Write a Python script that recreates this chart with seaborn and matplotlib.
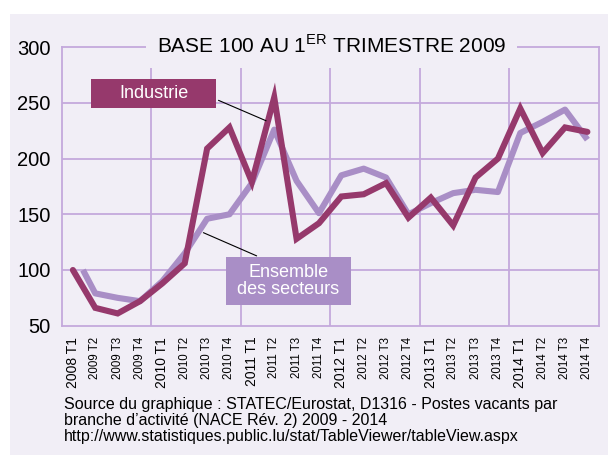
import matplotlib
matplotlib.use("Agg")
import matplotlib.pyplot as plt
import seaborn as sns
import pandas as pd
from matplotlib.patches import Rectangle

# Data
quarters = ["2008 T1", "2009 T2", "2009 T3", "2009 T4",
            "2010 T1", "2010 T2", "2010 T3", "2010 T4",
            "2011 T1", "2011 T2", "2011 T3", "2011 T4",
            "2012 T1", "2012 T2", "2012 T3", "2012 T4",
            "2013 T1", "2013 T2", "2013 T3", "2013 T4",
            "2014 T1", "2014 T2", "2014 T3", "2014 T4"]
industrie = [100, 66, 61, 72, 88, 106, 209, 228, 179, 255, 128, 142,
             166, 168, 178, 147, 165, 140, 183, 200, 245, 205, 228, 224]
# ensemble series starts half a step after the first category
ensemble_x = [0.45] + list(range(1, 24))
ensemble = [100, 79, 75, 72, 90, 115, 146, 150, 178, 226, 180, 151,
            185, 191, 183, 150, 160, 169, 172, 170, 223, 233, 244, 217]

c_ind = "#96396C"
c_ens = "#A98EC6"
c_grid = "#C4A9DC"
c_bg = "#F1EEF6"

sns.set_theme(style="white")
plt.rcParams["font.family"] = ["Liberation Sans", "DejaVu Sans"]
plt.rcParams["mathtext.fontset"] = "custom"
plt.rcParams["mathtext.rm"] = "Liberation Sans"

fig = plt.figure(figsize=(6.08, 4.55), dpi=100)
fig.patch.set_facecolor("white")
panel = Rectangle((10 / 608, 0), 1, (455 - 14) / 455,
                  transform=fig.transFigure, facecolor=c_bg,
                  edgecolor="none", zorder=-10)
fig.add_artist(panel)

ax = fig.add_axes([0.1015, 0.2842, 0.883, 0.612])
ax.set_zorder(1)
ax.set_facecolor(c_bg)

df_ind = pd.DataFrame({"x": range(len(quarters)), "v": industrie})
df_ens = pd.DataFrame({"x": ensemble_x, "v": ensemble})
sns.lineplot(data=df_ens, x="x", y="v", ax=ax, color=c_ens, lw=4.4,
             solid_capstyle="butt", zorder=3)
sns.lineplot(data=df_ind, x="x", y="v", ax=ax, color=c_ind, lw=4.4,
             solid_capstyle="round", solid_joinstyle="miter", zorder=4)

ax.set_xlim(-0.5, len(quarters) - 0.5)
ax.set_ylim(50, 300)
ax.set_yticks([50, 100, 150, 200, 250, 300])
ax.set_xticks(range(len(quarters)))
ax.set_xticklabels(quarters, rotation=90, va="top")
for lab, q in zip(ax.get_xticklabels(), quarters):
    lab.set_fontsize(10 if q.endswith("T1") else 8.3)
ax.tick_params(axis="y", labelsize=14.5, length=0, pad=8, labelcolor="black")
ax.tick_params(axis="x", length=0, pad=8, labelcolor="black")
ax.set_xlabel("")
ax.set_ylabel("")

# grid
for v in [100, 150, 200, 250]:
    ax.axhline(v, color=c_grid, lw=1.3, zorder=1)
for g in [3.5, 7.5, 11.5, 15.5, 19.5]:
    ax.axvline(g, ymax=0.95, color=c_grid, lw=1.3, zorder=1)
for s in ax.spines.values():
    s.set_color(c_grid)
    s.set_linewidth(1.3)

# title sitting on the top border
ax.text(0.502, 1.005, r"BASE 100 AU 1$^{\mathrm{ER}}$ TRIMESTRE 2009",
        transform=ax.transAxes, ha="center", va="center", fontsize=15,
        color="black", zorder=6,
        bbox=dict(facecolor=c_bg, edgecolor="none", pad=8))

# label boxes
ax.add_patch(Rectangle((0.0546, 0.7824), 0.2327, 0.1042, transform=ax.transAxes,
                       facecolor=c_ind, edgecolor="none", zorder=5))
ax.text(0.171, 0.8345, "Industrie", transform=ax.transAxes, ha="center",
        va="center", color="white", fontsize=13, zorder=6)
ax.annotate("", xy=(8.75, 233), xycoords="data",
            xytext=(0.2873, 0.8132), textcoords="axes fraction",
            arrowprops=dict(arrowstyle="-", color="black", lw=0.8), zorder=6)

ax.add_patch(Rectangle((0.3057, 0.0747), 0.2328, 0.1721, transform=ax.transAxes,
                       facecolor=c_ens, edgecolor="none", zorder=5))
ax.text(0.422, 0.161, "Ensemble\ndes secteurs", transform=ax.transAxes,
        ha="center", va="center", color="white", fontsize=13,
        linespacing=1.0, zorder=6)
ax.annotate("", xy=(5.72, 134.5), xycoords="data",
            xytext=(0.3678, 0.2468), textcoords="axes fraction",
            arrowprops=dict(arrowstyle="-", color="black", lw=0.8), zorder=6)

# source note
fig.text(64 / 608, 1 - 397 / 455,
         "Source du graphique : STATEC/Eurostat, D1316 - Postes vacants par\n"
         "branche d\u2019activit\u00e9 (NACE R\u00e9v. 2) 2009 - 2014\n"
         "http://www.statistiques.public.lu/stat/TableViewer/tableView.aspx",
         ha="left", va="top", fontsize=11.5, linespacing=1.1, color="black")

fig.savefig("out.png", dpi=100, facecolor="white")
